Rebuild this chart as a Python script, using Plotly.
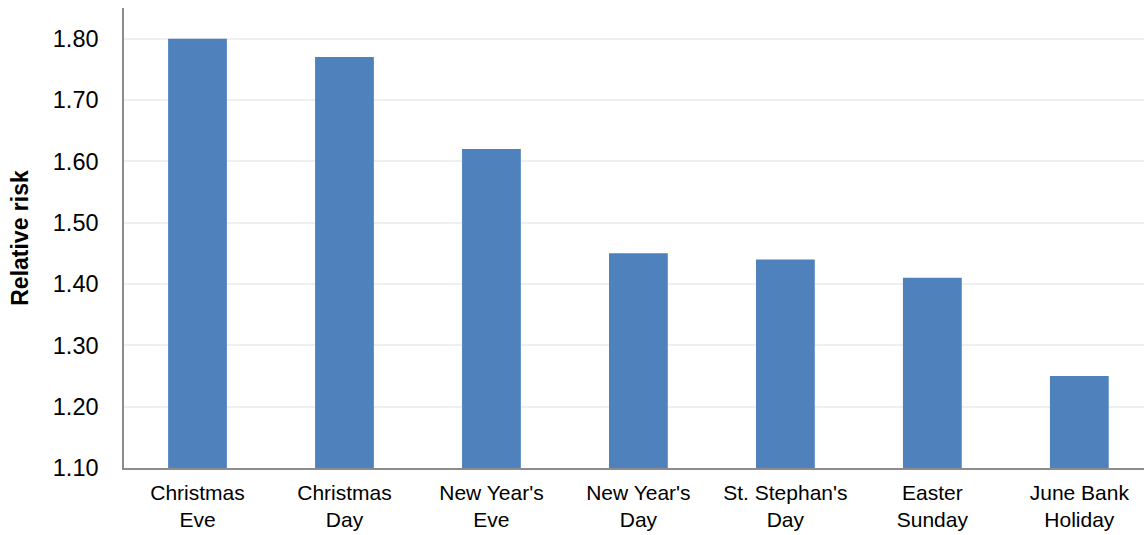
import plotly.graph_objects as go

categories = ["Christmas<br>Eve", "Christmas<br>Day", "New Year's<br>Eve", "New Year's<br>Day",
              "St. Stephan's<br>Day", "Easter<br>Sunday", "June Bank<br>Holiday"]
relative_risk = [1.80, 1.77, 1.62, 1.45, 1.44, 1.41, 1.25]
y_ticks = [1.10, 1.20, 1.30, 1.40, 1.50, 1.60, 1.70, 1.80]

base = 1.10
fig = go.Figure(go.Bar(
    x=categories,
    y=[v - base for v in relative_risk],
    base=base,
    marker=dict(color="#4F81BD", line=dict(width=0)),
    width=0.4,
    hoverinfo="skip",
))

fig.update_layout(
    width=1144, height=535,
    margin=dict(l=124, r=0, t=8, b=67),
    paper_bgcolor="white", plot_bgcolor="white",
    font=dict(family="Liberation Sans, Arial, sans-serif", size=20, color="black"),
    showlegend=False,
)
fig.update_xaxes(
    range=[-0.5, 6.44],
    automargin=False,
    showline=True, linecolor="#8C8C8C", linewidth=1.5,
    showgrid=False, ticks="", ticklabelstandoff=5,
    tickfont=dict(size=21),
)
fig.update_yaxes(
    range=[1.10, 1.85],
    automargin=False,
    tickvals=y_ticks, ticktext=[f"{v:.2f}" for v in y_ticks],
    showline=True, linecolor="#8C8C8C", linewidth=1.5,
    showgrid=True, gridcolor="#EFEFEF", gridwidth=1.5,
    zeroline=False, ticks="", ticklabelstandoff=19,
    tickfont=dict(size=23.5),
    title=dict(text="<b>Relative risk</b>", font=dict(size=23), standoff=18),
)

fig.write_html("out.html")
